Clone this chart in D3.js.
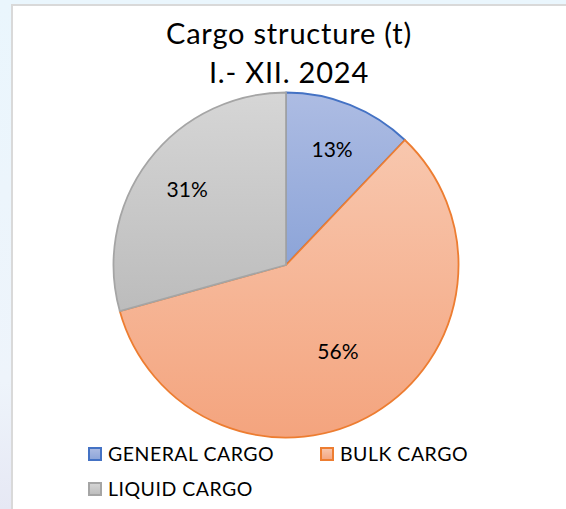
<!DOCTYPE html>
<html>
<head>
<meta charset="utf-8">
<script src="https://cdn.jsdelivr.net/npm/d3@7"></script>
<style>
  html, body { margin: 0; padding: 0; background: #eaf6fd; }
  svg { display: block; }
</style>
</head>
<body>
<svg id="chart" width="566" height="509"></svg>
<script>
// ---- data ----
const categories = ["GENERAL CARGO", "BULK CARGO", "LIQUID CARGO"];
const values = [12.1, 58.6, 29.3];           // slice sizes as drawn
const labels = ["13%", "56%", "31%"];        // data labels as printed
const titleLines = ["Cargo structure (t)", "I.- XII. 2024"];

// ---- styles ----
const strokeColors = ["#4472c4", "#ed7d31", "#a5a5a5"];
const gradTop = ["#adbce3", "#f8c7ae", "#d6d6d6"];
const gradBottom = ["#8ca4d8", "#f4a47e", "#bcbcbc"];
const labelRadiusFrac = [0.72, 0.585, 0.72];
const FONT = "Lato, 'Open Sans', sans-serif";
const TITLE_FONT = "Lato, 'Open Sans', sans-serif";

const W = 566, H = 509;
const svg = d3.select("#chart");
const defs = svg.append("defs");

// left faint watermark strip
const wm = defs.append("linearGradient").attr("id", "wm").attr("x1", 0).attr("x2", 0).attr("y1", 0).attr("y2", 1);
wm.append("stop").attr("offset", "0%").attr("stop-color", "#eaf6fd");
wm.append("stop").attr("offset", "75%").attr("stop-color", "#eef4fb");
wm.append("stop").attr("offset", "100%").attr("stop-color", "#e6e8f4");
svg.append("rect").attr("x", 0).attr("y", 0).attr("width", 12).attr("height", H).attr("fill", "url(#wm)");

// chart frame
svg.append("rect")
  .attr("x", 12).attr("y", 5)
  .attr("width", W + 20).attr("height", H + 20)
  .attr("fill", "#ffffff")
  .attr("stroke", "#d9d9d9").attr("stroke-width", 2);

// gradients
categories.forEach((c, i) => {
  const g = defs.append("linearGradient").attr("id", "g" + i)
    .attr("x1", 0).attr("x2", 0).attr("y1", 0).attr("y2", 1);
  g.append("stop").attr("offset", "0%").attr("stop-color", gradTop[i]);
  g.append("stop").attr("offset", "100%").attr("stop-color", gradBottom[i]);
});

// title
const title = svg.append("text")
  .attr("text-anchor", "middle")
  .attr("font-family", TITLE_FONT)
  .attr("font-size", 29)
  .attr("letter-spacing", 0.8)
  .attr("fill", "#000");
titleLines.forEach((t, i) => {
  title.append("tspan").attr("x", 289).attr("y", 44 + i * 38.5).text(t);
});

// pie
const cx = 286, cy = 265, R = 172.5;
const pie = d3.pie().sort(null).value(d => d.v);
const arcs = pie(values.map((v, i) => ({ v, i })));
const arc = d3.arc().innerRadius(0).outerRadius(R);

const g = svg.append("g").attr("transform", `translate(${cx},${cy})`);
g.selectAll("path.slice")
  .data(arcs)
  .join("path")
  .attr("class", "slice")
  .attr("d", arc)
  .attr("fill", d => `url(#g${d.data.i})`)
  .attr("stroke", d => strokeColors[d.data.i])
  .attr("stroke-width", 1.8)
  .attr("stroke-linejoin", "round");

g.selectAll("text.lbl")
  .data(arcs)
  .join("text")
  .attr("class", "lbl")
  .attr("transform", d => {
    const r = R * labelRadiusFrac[d.data.i];
    const la = d3.arc().innerRadius(r).outerRadius(r);
    const [x, y] = la.centroid(d);
    return `translate(${x},${y})`;
  })
  .attr("text-anchor", "middle")
  .attr("dy", "0.36em")
  .attr("font-family", FONT)
  .attr("font-size", 21)
  .attr("fill", "#000")
  .text(d => labels[d.data.i]);

// legend
const legendPos = [[88, 447], [320, 447], [88, 482]];
const leg = svg.append("g");
categories.forEach((c, i) => {
  const [x, y] = legendPos[i];
  leg.append("rect")
    .attr("x", x + 1).attr("y", y + 1).attr("width", 12).attr("height", 12)
    .attr("fill", `url(#g${i})`)
    .attr("stroke", strokeColors[i]).attr("stroke-width", 2);
  leg.append("text")
    .attr("x", x + 20).attr("y", y + 7)
    .attr("dy", "0.36em")
    .attr("font-family", FONT)
    .attr("font-size", 19.5)
    .attr("letter-spacing", 0.5)
    .attr("fill", "#000")
    .text(c);
});
</script>
</body>
</html>
